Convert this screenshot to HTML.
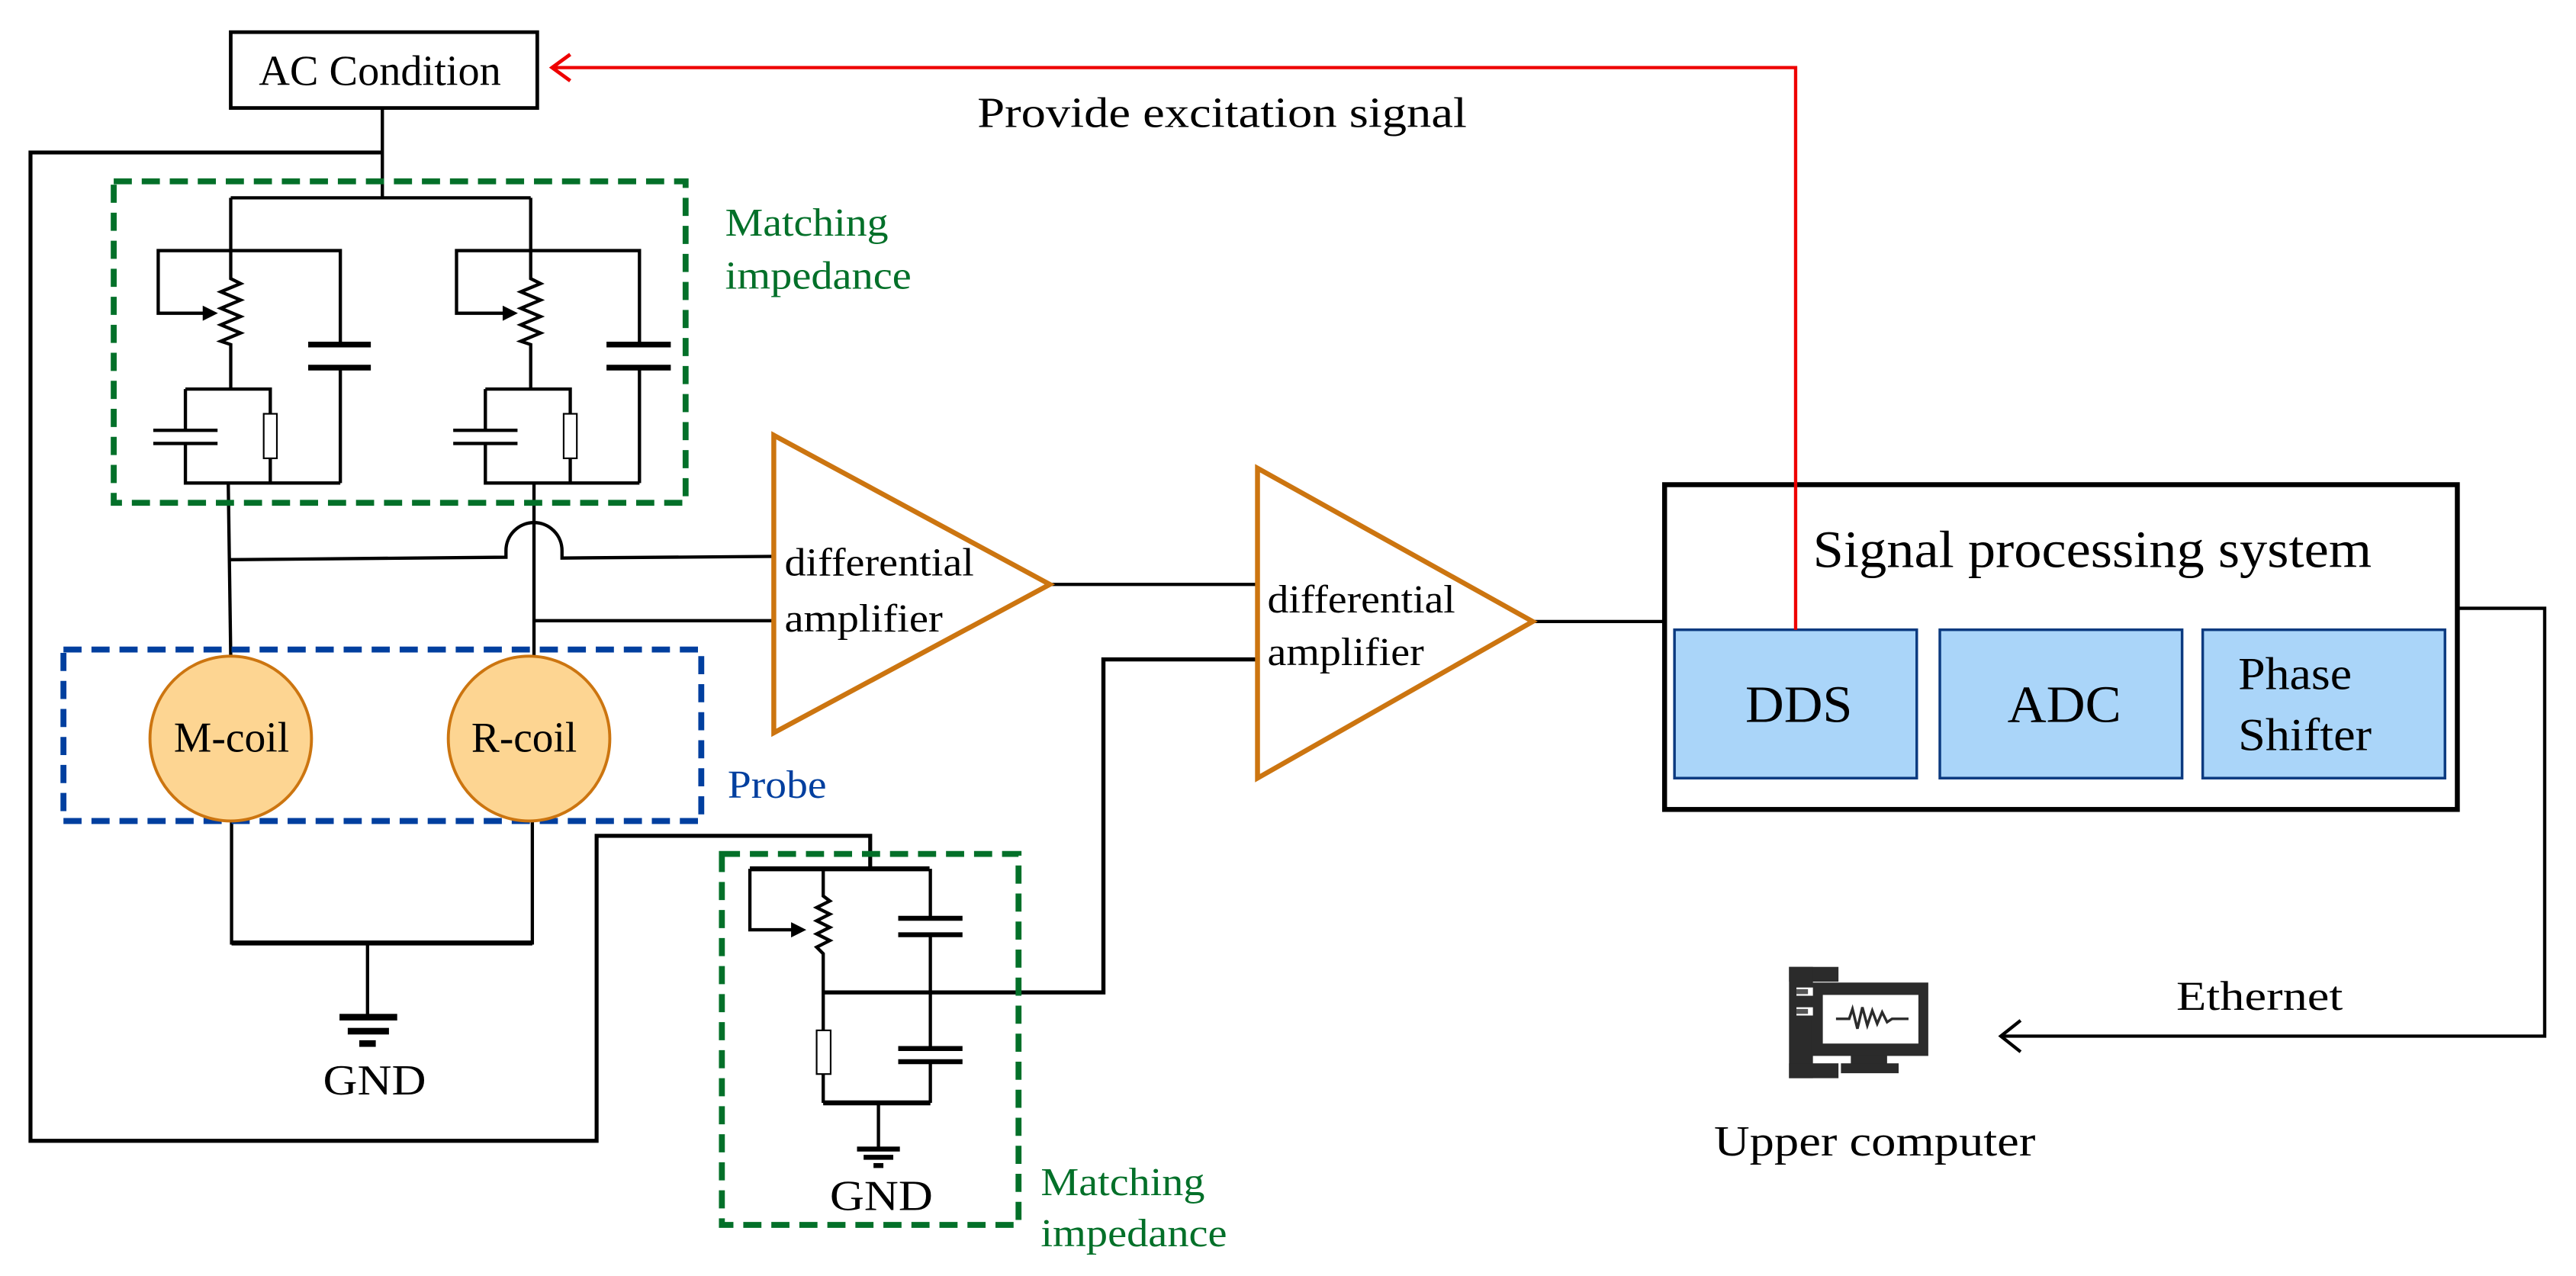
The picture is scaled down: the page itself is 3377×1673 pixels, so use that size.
<!DOCTYPE html>
<html><head><meta charset="utf-8"><style>html,body{margin:0;padding:0;background:#fff}svg{display:block}</style></head>
<body>
<svg width="3377" height="1673" viewBox="0 0 1563 774" preserveAspectRatio="none" xmlns="http://www.w3.org/2000/svg" font-family="Liberation Serif, serif">
<rect width="1563" height="774" fill="#fff"/>
<g fill="none" stroke="#000" stroke-width="2">
<!-- AC Condition -->
<rect x="140" y="19.5" width="186" height="46" stroke-width="2.2"/>
<!-- AC down -->
<path d="M232 65.5 V120"/>
<!-- left loop -->
<path d="M232 92.5 H18.5 V692 H362 V507 H528 V527" stroke-width="2.4"/>
<!-- top rail -->
<path d="M140 120 H322"/>
<!-- left branch -->
<path d="M140 120 V169 l6 3 -12 5 12 5 -12 5 12 5 -12 5 12 5 -12 5 6 2 V236"/>
<path d="M140 152 H96 V190 H124"/>
<path d="M124 187 L130 190 L124 193 Z" fill="#000"/>
<path d="M140 152 H206.5 V209 M206.5 223 V293"/>
<path d="M187 209 H225 M187 223 H225" stroke-width="3.5"/>
<path d="M112.5 236 H164 V251 M164 278 V293"/>
<rect x="160" y="251" width="8" height="27" stroke-width="1"/>
<path d="M112.5 236 V261 M112.5 269 V293 H206.5"/>
<path d="M93 261 H132 M93 269 H132" stroke-width="2"/>
<path d="M138.5 293 L140 398"/>
<!-- right branch -->
<path d="M322 120 V169 l6 3 -12 5 12 5 -12 5 12 5 -12 5 12 5 -12 5 6 2 V236"/>
<path d="M322 152 H277 V190 H306"/>
<path d="M306 187 L312 190 L306 193 Z" fill="#000"/>
<path d="M322 152 H388 V209 M388 223 V293"/>
<path d="M368 209 H407 M368 223 H407" stroke-width="3.5"/>
<path d="M294.5 236 H346 V251 M346 278 V293"/>
<rect x="342" y="251" width="8" height="27" stroke-width="1"/>
<path d="M294.5 236 V261 M294.5 269 V293 H388"/>
<path d="M275 261 H314 M275 269 H314"/>
<path d="M324 293 V398"/>
<!-- wires to amp1 -->
<path d="M140 339.5 L307 338 V334 A17 17 0 0 1 341 334 V338.5 L469 337.5"/>
<path d="M324 376.5 H469"/>
<!-- GND 1 -->
<path d="M140.5 498 V572 H323 V498"/>
<path d="M140.5 572 H323" stroke-width="3"/>
<path d="M223 572 V617"/>
</g>
<g fill="#000">
<rect x="206" y="615" width="35" height="4"/>
<rect x="211" y="623.5" width="25" height="4"/>
<rect x="218" y="631" width="10" height="4"/>
<rect x="520" y="695.5" width="26" height="3"/>
<rect x="524" y="700.5" width="18" height="3"/>
<rect x="530" y="705.5" width="6" height="3"/>
</g>
<!-- lower matching circuit -->
<g fill="none" stroke="#000" stroke-width="2">
<path d="M455 527 H564" stroke-width="3"/>
<path d="M455 527 V564 H481"/>
<path d="M481 561 L487 564 L481 567 Z" fill="#000"/>
<path d="M499.5 527 V543.5 l4 3 -8 4 8 4 -8 4 8 4 -8 4 8 4 -8 4 4 4 V625 M499.5 651.5 V669"/>
<rect x="495.5" y="625" width="8.5" height="26.5" stroke-width="1"/>
<path d="M564.5 527 V557 M564.5 567 V636 M564.5 644 V669"/>
<path d="M545 557 H584 M545 567 H584 M545 636 H584 M545 644 H584" stroke-width="3"/>
<path d="M499.5 669 H564.5 M533 669 V697" />
<path d="M499.5 669 H564.5" stroke-width="3"/>
<path d="M499.5 602 H669.5 V400 H762.5" stroke-width="2.5"/>
<path d="M637 354.5 H762.5"/>
<path d="M930 377 H1010"/>
<path d="M1491 369 H1544 V628.5 H1214"/>
<path d="M1226 619 L1214 628.5 L1226 638"/>
</g>
<!-- dashed boxes -->
<rect x="69" y="110" width="347" height="195" fill="none" stroke="#037029" stroke-width="3.6" stroke-dasharray="11,6"/>
<rect x="438" y="518" width="180" height="225" fill="none" stroke="#037029" stroke-width="3.6" stroke-dasharray="11,6"/>
<rect x="38.5" y="394" width="387" height="104" fill="none" stroke="#003f9f" stroke-width="3.6" stroke-dasharray="11,6"/>
<!-- coils -->
<ellipse cx="140" cy="448" rx="49" ry="50" fill="#fdd592" stroke="#cc7510" stroke-width="1.8"/>
<ellipse cx="321" cy="448" rx="49" ry="50" fill="#fdd592" stroke="#cc7510" stroke-width="1.8"/>
<!-- amps -->
<path d="M469.5 264 L637 354.5 L469.5 444.5 Z" fill="none" stroke="#cc7510" stroke-width="3"/>
<path d="M763 284 L930 377 L763 472 Z" fill="none" stroke="#cc7510" stroke-width="3"/>
<!-- SPS -->
<rect x="1010" y="294" width="481" height="197" fill="none" stroke="#000" stroke-width="3"/>
<g fill="#aad5f9" stroke="#0b3a80" stroke-width="1.6">
<rect x="1016" y="382" width="147" height="90"/>
<rect x="1177" y="382" width="147" height="90"/>
<rect x="1336.5" y="382" width="147" height="90"/>
</g>
<!-- red -->
<path d="M1089.5 382 V41 H336" fill="none" stroke="#ee0000" stroke-width="2"/>
<path d="M346 33 L335 41 L346 49" fill="none" stroke="#ee0000" stroke-width="2.2"/>
<!-- computer icon -->
<g fill="#2b2b2b">
<rect x="1085.5" y="586.5" width="30" height="9"/>
<rect x="1085.5" y="586.5" width="14.5" height="67.5"/>
<rect x="1085.5" y="645" width="30" height="9"/>
<rect x="1099" y="596" width="71" height="44.5"/>
<rect x="1123" y="640" width="22" height="6"/>
<rect x="1117" y="645" width="35" height="6"/>
</g>
<g fill="#fff">
<rect x="1090" y="599" width="10" height="5"/>
<rect x="1090" y="611" width="10" height="5"/>
<rect x="1106" y="603.5" width="58" height="29.5"/>
</g>
<rect x="1090" y="600" width="7" height="3" fill="#555"/>
<rect x="1090" y="612" width="7" height="3" fill="#555"/>
<path d="M1114 618 H1122 L1124 612 L1127 624 L1130 611 L1133 622 L1136 613 L1139 621 L1142 614 L1145 620 L1148 618 H1158" fill="none" stroke="#2b2b2b" stroke-width="1.6"/>
<!-- text -->
<g fill="#000" font-size="26" lengthAdjust="spacingAndGlyphs">
<text x="157" y="51.5" textLength="147" lengthAdjust="spacingAndGlyphs">AC Condition</text>
<text x="593" y="77" textLength="297" lengthAdjust="spacingAndGlyphs">Provide excitation signal</text>
<text x="476" y="349" font-size="24" textLength="115" lengthAdjust="spacingAndGlyphs">differential</text>
<text x="476" y="383" font-size="24" textLength="96" lengthAdjust="spacingAndGlyphs">amplifier</text>
<text x="769" y="371.5" font-size="24" textLength="114" lengthAdjust="spacingAndGlyphs">differential</text>
<text x="769" y="403.5" font-size="24" textLength="95" lengthAdjust="spacingAndGlyphs">amplifier</text>
<text x="105.5" y="456" textLength="70" lengthAdjust="spacingAndGlyphs">M-coil</text>
<text x="286" y="456" textLength="64" lengthAdjust="spacingAndGlyphs">R-coil</text>
<text x="196" y="664" textLength="62.5" lengthAdjust="spacingAndGlyphs">GND</text>
<text x="503.5" y="734" textLength="62.5" lengthAdjust="spacingAndGlyphs">GND</text>
<text x="1100" y="344" font-size="32" textLength="339" lengthAdjust="spacingAndGlyphs">Signal processing system</text>
<text x="1059" y="438" font-size="32" textLength="65" lengthAdjust="spacingAndGlyphs">DDS</text>
<text x="1218" y="438" font-size="32" textLength="69" lengthAdjust="spacingAndGlyphs">ADC</text>
<text x="1358" y="418" font-size="28" textLength="69" lengthAdjust="spacingAndGlyphs">Phase</text>
<text x="1358" y="455" font-size="28" textLength="81" lengthAdjust="spacingAndGlyphs">Shifter</text>
<text x="1320.5" y="612.5" font-size="25" textLength="101" lengthAdjust="spacingAndGlyphs">Ethernet</text>
<text x="1040" y="701" textLength="195" lengthAdjust="spacingAndGlyphs">Upper computer</text>
</g>
<g fill="#037029" font-size="24">
<text x="440" y="143" textLength="99" lengthAdjust="spacingAndGlyphs">Matching</text>
<text x="440" y="175" textLength="113" lengthAdjust="spacingAndGlyphs">impedance</text>
<text x="631.5" y="725" textLength="99.5" lengthAdjust="spacingAndGlyphs">Matching</text>
<text x="631.5" y="756" textLength="113" lengthAdjust="spacingAndGlyphs">impedance</text>
</g>
<text x="441.5" y="484" fill="#003f9f" font-size="24" textLength="60" lengthAdjust="spacingAndGlyphs">Probe</text>
</svg>
</body></html>
